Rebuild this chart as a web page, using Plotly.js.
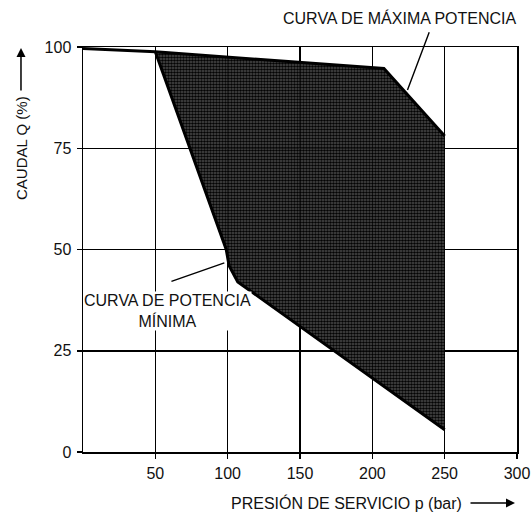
<!DOCTYPE html>
<html>
<head>
<meta charset="utf-8">
<script src="https://cdn.plot.ly/plotly-3.0.1.min.js"></script>
<style>html,body{margin:0;padding:0;background:#fff;}#chart{width:532px;height:521px;}</style>
</head>
<body>
<div id="chart"></div>
<script>
// Curva de máxima potencia (presión bar, caudal %)
const maxP = [0, 50, 208, 250];
const maxQ = [99.6, 98.8, 94.7, 78];
// Curva de potencia mínima
const minP = [50, 74, 99, 101, 107, 250];
const minQ = [98.8, 75, 50, 46, 42, 5.5];
// Ticks
const xTicks = [50, 100, 150, 200, 250, 300];
const yTicks = [0, 25, 50, 75, 100];
const labelMax = "CURVA DE MÁXIMA POTENCIA";
const labelMin = "CURVA DE POTENCIA<br>MÍNIMA";
const xTitle = "PRESIÓN DE SERVICIO p (bar)";
const yTitle = "CAUDAL Q (%)";

const FONT = "'Liberation Sans', Arial, Helvetica, sans-serif";

// shaded operating zone polygon: max curve (from its 2nd point) + 250 bar edge + reversed min curve
const zoneP = maxP.slice(1).concat(minP.slice().reverse());
const zoneQ = maxQ.slice(1).concat(minQ.slice().reverse());

const traces = [
  {
    x: zoneP, y: zoneQ, type: 'scatter', mode: 'lines',
    fill: 'toself', line: {width: 0, color: 'rgba(0,0,0,0)'},
    fillcolor: 'rgba(25,25,25,0.88)',
    fillpattern: {shape: '.', fgcolor: 'rgba(0,0,0,0.95)', bgcolor: 'rgba(55,55,55,0.88)', size: 3, solidity: 0.6},
    hoverinfo: 'skip', showlegend: false
  },
  {
    x: maxP, y: maxQ, type: 'scatter', mode: 'lines',
    line: {color: '#000', width: 3}, showlegend: false, hoverinfo: 'skip'
  },
  {
    x: minP, y: minQ, type: 'scatter', mode: 'lines',
    line: {color: '#000', width: 3}, showlegend: false, hoverinfo: 'skip'
  }
];

const layout = {
  width: 532, height: 521,
  margin: {l: 83, r: 15, t: 47, b: 69, pad: 0},
  paper_bgcolor: '#fff', plot_bgcolor: '#fff',
  font: {family: FONT, size: 16, color: '#111'},
  showlegend: false,
  xaxis: {
    range: [0, 300], tickvals: xTicks, ticktext: xTicks.map(String),
    showgrid: true, gridcolor: '#000', gridwidth: 1.5,
    showline: true, linecolor: '#000', linewidth: 1.5, mirror: true,
    ticks: 'outside', ticklen: 5, tickwidth: 1.5, tickcolor: '#000',
    ticklabelstandoff: 1,
    zeroline: false, fixedrange: true,
    tickfont: {family: FONT, size: 16, color: '#111'}
  },
  yaxis: {
    range: [0, 100], tickvals: yTicks, ticktext: yTicks.map(String),
    showgrid: true, gridcolor: '#000', gridwidth: 1.5,
    showline: true, linecolor: '#000', linewidth: 1.5, mirror: true,
    ticks: 'outside', ticklen: 5, tickwidth: 1.5, tickcolor: '#000',
    ticklabelstandoff: 2,
    zeroline: false, fixedrange: true,
    tickfont: {family: FONT, size: 16, color: '#111'}
  },
  annotations: [
    // leader for max curve
    {x: 224.3, y: 89.4, xref: 'x', yref: 'y', ax: 239.7, ay: 104, axref: 'x', ayref: 'y',
     text: '', showarrow: true, arrowhead: 0, arrowwidth: 1.4, arrowcolor: '#000'},
    {x: 0.730, y: 1.0716, xref: 'paper', yref: 'paper', xanchor: 'center', yanchor: 'middle',
     text: labelMax, showarrow: false, font: {family: FONT, size: 16, color: '#111'}},
    // leader for min curve
    {x: 97.7, y: 46.7, xref: 'x', yref: 'y', ax: 60.1, ay: 42.0, axref: 'x', ayref: 'y',
     text: '', showarrow: true, arrowhead: 0, arrowwidth: 1.4, arrowcolor: '#000'},
    {x: 58.4, y: 34.7, xref: 'x', yref: 'y', xanchor: 'center', yanchor: 'middle',
     text: labelMin, showarrow: false, bgcolor: '#fff', borderpad: 0,
     font: {family: FONT, size: 16, color: '#111'}},
    // axis titles
    {x: 0.608, y: -0.1259, xref: 'paper', yref: 'paper', xanchor: 'center', yanchor: 'middle',
     text: xTitle, showarrow: false, font: {family: FONT, size: 16, color: '#111'}},
    {x: 0.9954, y: -0.1259, xref: 'paper', yref: 'paper', ax: -46, ay: 0,
     text: '', showarrow: true, arrowhead: 2, arrowsize: 1.2, arrowwidth: 1.5, arrowcolor: '#000'},
    {x: -0.1429, y: 0.7506, xref: 'paper', yref: 'paper', xanchor: 'center', yanchor: 'middle',
     textangle: -90, text: yTitle, showarrow: false, font: {family: FONT, size: 15, color: '#111'}},
    {x: -0.1429, y: 0.9975, xref: 'paper', yref: 'paper', ax: 0, ay: 44,
     text: '', showarrow: true, arrowhead: 2, arrowsize: 1.2, arrowwidth: 1.5, arrowcolor: '#000'}
  ]
};

Plotly.newPlot('chart', traces, layout, {displayModeBar: false, staticPlot: true});
</script>
</body>
</html>
